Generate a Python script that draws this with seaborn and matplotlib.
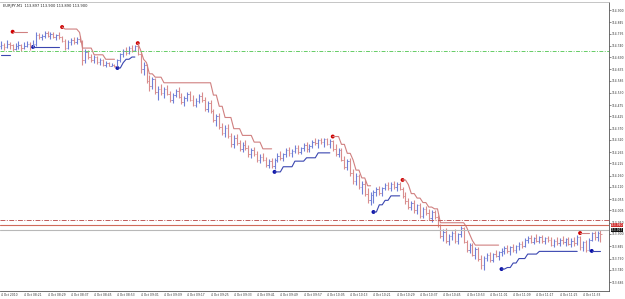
import matplotlib
matplotlib.use("Agg")
import matplotlib.pyplot as plt
import seaborn as sns
import pandas as pd
import numpy as np

sns.set_theme(style="white")
plt.rcParams['font.family'] = ['DejaVu Sans']

# ---------------- data (EURJPY M1, 4 Oct 2010 08:13 - 11:39) ----------------
opens = [114.738, 114.745, 114.735, 114.750, 114.742, 114.728, 114.738, 114.745, 114.732, 114.740, 114.750, 114.738,
         114.748, 114.790, 114.778, 114.785, 114.798, 114.785, 114.792, 114.780, 114.788,
         114.778, 114.760, 114.730, 114.758, 114.765, 114.755, 114.772,
         114.762, 114.675, 114.712, 114.690, 114.678, 114.688, 114.668, 114.675, 114.655, 114.665, 114.648, 114.655,
         114.652, 114.675, 114.702, 114.718, 114.710, 114.732, 114.720, 114.738,
         114.705, 114.635, 114.655, 114.585, 114.560, 114.590, 114.535, 114.545,
         114.530, 114.548, 114.525, 114.500, 114.522, 114.540, 114.512, 114.488, 114.505, 114.525, 114.500, 114.478, 114.495, 114.515, 114.498, 114.460, 114.485,
         114.450, 114.410, 114.425, 114.378, 114.350, 114.375, 114.338, 114.300,
         114.330, 114.305, 114.280, 114.298, 114.282, 114.255, 114.275, 114.258, 114.230, 114.245, 114.232, 114.210, 114.225,
         114.205, 114.232, 114.250, 114.238, 114.255, 114.275, 114.260, 114.272, 114.285, 114.268, 114.282, 114.295, 114.278, 114.292, 114.312, 114.305, 114.318, 114.310, 114.325, 114.300,
         114.315, 114.280, 114.258, 114.275, 114.232, 114.200, 114.225, 114.170, 114.135, 114.160, 114.110, 114.125, 114.080, 114.050,
         114.075, 114.085, 114.100, 114.082, 114.105, 114.120, 114.105, 114.125, 114.110, 114.122,
         114.100, 114.068, 114.045, 114.020, 114.040, 114.005, 114.028, 113.980, 114.012, 113.995, 113.970, 113.998, 113.975,
         113.940, 113.890, 113.910, 113.870, 113.892, 113.905, 113.868, 113.898,
         113.925, 113.865, 113.830, 113.850, 113.808, 113.832, 113.788, 113.760,
         113.792, 113.805, 113.785, 113.810, 113.800, 113.818,
         113.825, 113.838, 113.822, 113.840, 113.830, 113.845, 113.855,
         113.845, 113.872, 113.880, 113.865, 113.882, 113.870, 113.885, 113.868, 113.880,
         113.872, 113.852, 113.870, 113.858, 113.875, 113.862, 113.878, 113.855, 113.870, 113.858,
         113.888, 113.840, 113.862, 113.830, 113.875, 113.902, 113.885, 113.905]
highs = [114.760, 114.752, 114.765, 114.758, 114.748, 114.752, 114.760, 114.750, 114.755, 114.762, 114.755, 114.765,
         114.800, 114.798, 114.792, 114.805, 114.808, 114.800, 114.802, 114.795, 114.800,
         114.785, 114.772, 114.765, 114.775, 114.778, 114.780, 114.785,
         114.768, 114.725, 114.720, 114.705, 114.698, 114.695, 114.685, 114.680, 114.672, 114.670, 114.662, 114.660,
         114.680, 114.710, 114.725, 114.735, 114.740, 114.742, 114.745, 114.745,
         114.710, 114.668, 114.660, 114.610, 114.600, 114.598, 114.560, 114.570,
         114.555, 114.565, 114.540, 114.530, 114.548, 114.555, 114.530, 114.515, 114.535, 114.540, 114.520, 114.505, 114.525, 114.535, 114.510, 114.495, 114.500,
         114.460, 114.435, 114.440, 114.395, 114.385, 114.390, 114.350, 114.340,
         114.345, 114.320, 114.310, 114.318, 114.295, 114.285, 114.290, 114.270, 114.255, 114.262, 114.245, 114.235, 114.240,
         114.240, 114.260, 114.270, 114.262, 114.285, 114.290, 114.280, 114.295, 114.298, 114.290, 114.305, 114.310, 114.300, 114.320, 114.330, 114.325, 114.330, 114.328, 114.330, 114.322,
         114.320, 114.300, 114.285, 114.282, 114.250, 114.235, 114.240, 114.190, 114.170, 114.168, 114.135, 114.140, 114.105, 114.085,
         114.095, 114.110, 114.115, 114.110, 114.128, 114.132, 114.130, 114.135, 114.130, 114.132,
         114.110, 114.085, 114.060, 114.048, 114.050, 114.035, 114.040, 114.020, 114.025, 114.010, 114.005, 114.008, 113.985,
         113.945, 113.920, 113.925, 113.900, 113.915, 113.920, 113.905, 113.935,
         113.930, 113.875, 113.860, 113.858, 113.840, 113.842, 113.805, 113.800,
         113.815, 113.820, 113.815, 113.828, 113.825, 113.835,
         113.845, 113.850, 113.845, 113.855, 113.852, 113.862, 113.870,
         113.880, 113.890, 113.895, 113.888, 113.898, 113.892, 113.895, 113.888, 113.892,
         113.885, 113.878, 113.885, 113.880, 113.890, 113.882, 113.888, 113.880, 113.885, 113.895,
         113.892, 113.870, 113.875, 113.880, 113.910, 113.915, 113.912, 113.918]
lows = [114.728, 114.722, 114.730, 114.725, 114.715, 114.722, 114.728, 114.718, 114.725, 114.735, 114.722, 114.730,
        114.740, 114.770, 114.765, 114.775, 114.780, 114.770, 114.775, 114.768, 114.772,
        114.755, 114.720, 114.725, 114.745, 114.750, 114.748, 114.755,
        114.655, 114.665, 114.680, 114.668, 114.665, 114.660, 114.655, 114.648, 114.645, 114.648, 114.650, 114.645,
        114.648, 114.668, 114.690, 114.700, 114.705, 114.712, 114.715, 114.700,
        114.620, 114.610, 114.575, 114.540, 114.545, 114.525, 114.500, 114.520,
        114.505, 114.520, 114.490, 114.485, 114.510, 114.505, 114.480, 114.470, 114.495, 114.495, 114.470, 114.465, 114.485, 114.490, 114.450, 114.445, 114.440,
        114.400, 114.380, 114.370, 114.340, 114.335, 114.330, 114.290, 114.285,
        114.295, 114.270, 114.265, 114.275, 114.245, 114.240, 114.250, 114.220, 114.215, 114.225, 114.200, 114.195, 114.195,
        114.190, 114.220, 114.228, 114.225, 114.245, 114.250, 114.245, 114.262, 114.258, 114.255, 114.270, 114.268, 114.265, 114.285, 114.295, 114.285, 114.300, 114.290, 114.295, 114.285,
        114.270, 114.250, 114.245, 114.225, 114.190, 114.185, 114.160, 114.125, 114.120, 114.100, 114.080, 114.070, 114.040, 114.030,
        114.040, 114.070, 114.075, 114.070, 114.095, 114.098, 114.092, 114.100, 114.090, 114.095,
        114.060, 114.035, 114.010, 114.005, 113.995, 113.990, 113.970, 113.970, 113.985, 113.960, 113.955, 113.965, 113.930,
        113.880, 113.870, 113.860, 113.850, 113.875, 113.860, 113.855, 113.885,
        113.860, 113.820, 113.815, 113.800, 113.790, 113.780, 113.745, 113.740,
        113.780, 113.775, 113.775, 113.795, 113.785, 113.800,
        113.810, 113.815, 113.805, 113.820, 113.815, 113.830, 113.835,
        113.840, 113.860, 113.858, 113.855, 113.862, 113.858, 113.860, 113.855, 113.862,
        113.845, 113.842, 113.850, 113.845, 113.855, 113.848, 113.850, 113.842, 113.848, 113.850,
        113.830, 113.825, 113.820, 113.825, 113.868, 113.875, 113.870, 113.865]
closes = [114.745, 114.735, 114.750, 114.742, 114.728, 114.738, 114.745, 114.732, 114.740, 114.750, 114.738, 114.748,
          114.790, 114.778, 114.785, 114.798, 114.785, 114.792, 114.780, 114.788, 114.778,
          114.760, 114.730, 114.758, 114.765, 114.755, 114.772, 114.762,
          114.675, 114.712, 114.690, 114.678, 114.688, 114.668, 114.675, 114.655, 114.665, 114.648, 114.655, 114.652,
          114.675, 114.702, 114.718, 114.710, 114.732, 114.720, 114.738, 114.705,
          114.635, 114.655, 114.585, 114.560, 114.590, 114.535, 114.545, 114.530,
          114.548, 114.525, 114.500, 114.522, 114.540, 114.512, 114.488, 114.505, 114.525, 114.500, 114.478, 114.495, 114.515, 114.498, 114.460, 114.485, 114.450,
          114.410, 114.425, 114.378, 114.350, 114.375, 114.338, 114.300, 114.330,
          114.305, 114.280, 114.298, 114.282, 114.255, 114.275, 114.258, 114.230, 114.245, 114.232, 114.210, 114.225, 114.205,
          114.232, 114.250, 114.238, 114.255, 114.275, 114.260, 114.272, 114.285, 114.268, 114.282, 114.295, 114.278, 114.292, 114.312, 114.305, 114.318, 114.310, 114.325, 114.300, 114.315,
          114.280, 114.258, 114.275, 114.232, 114.200, 114.225, 114.170, 114.135, 114.160, 114.110, 114.125, 114.080, 114.050, 114.075,
          114.085, 114.100, 114.082, 114.105, 114.120, 114.105, 114.125, 114.110, 114.122, 114.100,
          114.068, 114.045, 114.020, 114.040, 114.005, 114.028, 113.980, 114.012, 113.995, 113.970, 113.998, 113.975, 113.940,
          113.890, 113.910, 113.870, 113.892, 113.905, 113.868, 113.898, 113.925,
          113.865, 113.830, 113.850, 113.808, 113.832, 113.788, 113.760, 113.792,
          113.805, 113.785, 113.810, 113.800, 113.818, 113.825,
          113.838, 113.822, 113.840, 113.830, 113.845, 113.855, 113.845,
          113.872, 113.880, 113.865, 113.882, 113.870, 113.885, 113.868, 113.880, 113.872,
          113.852, 113.870, 113.858, 113.875, 113.862, 113.878, 113.855, 113.870, 113.858, 113.888,
          113.840, 113.862, 113.830, 113.875, 113.902, 113.885, 113.905, 113.900]

# trailing-stop levels: (first bar, last bar, level)
red_stop = [(4, 9, 114.803),
            (21, 21, 114.824), (22, 26, 114.815), (27, 27, 114.800), (28, 31, 114.730), (32, 35, 114.700), (36, 39, 114.680),
            (47, 47, 114.752), (48, 48, 114.720), (49, 49, 114.680), (50, 50, 114.665), (51, 52, 114.615), (53, 55, 114.600),
            (56, 72, 114.575), (73, 74, 114.520), (75, 76, 114.470), (77, 79, 114.420), (80, 82, 114.370), (83, 86, 114.340),
            (87, 89, 114.310), (90, 93, 114.280),
            (114, 116, 114.335), (117, 118, 114.300), (119, 120, 114.260), (121, 121, 114.230), (122, 123, 114.185),
            (124, 125, 114.150), (126, 127, 114.115),
            (138, 139, 114.141), (140, 140, 114.120), (141, 142, 114.080), (143, 144, 114.060), (145, 146, 114.040),
            (147, 148, 114.020), (149, 150, 114.012), (151, 159, 113.950), (160, 160, 113.930), (161, 161, 113.900),
            (162, 162, 113.870), (163, 171, 113.850),
            (199, 202, 113.904)]
blue_stop = [(0, 3, 114.699),
             (11, 20, 114.735),
             (40, 41, 114.641), (42, 42, 114.665), (43, 44, 114.680), (45, 46, 114.690),
             (94, 96, 114.177), (97, 100, 114.200), (101, 104, 114.225), (105, 108, 114.240), (109, 113, 114.262),
             (128, 129, 113.998), (130, 131, 114.030), (132, 133, 114.050), (134, 137, 114.070),
             (172, 173, 113.743), (174, 175, 113.750), (176, 177, 113.770), (178, 180, 113.790), (181, 184, 113.810),
             (185, 198, 113.822),
             (203, 206, 113.824)]

green_level = 114.717
red_dash_level = 113.962
ask_level = 113.940
bid_level = 113.917

y_ticks = [114.900, 114.845, 114.795, 114.740, 114.690, 114.635, 114.585, 114.530, 114.475, 114.425, 114.370,
           114.320, 114.265, 114.215, 114.160, 114.110, 114.055, 114.005, 113.950, 113.900, 113.845, 113.790,
           113.740, 113.685]
x_labels = ["4 Oct 2010", "4 Oct 08:21", "4 Oct 08:29", "4 Oct 08:37", "4 Oct 08:45", "4 Oct 08:53",
            "4 Oct 09:01", "4 Oct 09:09", "4 Oct 09:17", "4 Oct 09:25", "4 Oct 09:33", "4 Oct 09:41",
            "4 Oct 09:49", "4 Oct 09:57", "4 Oct 10:05", "4 Oct 10:13", "4 Oct 10:21", "4 Oct 10:29",
            "4 Oct 10:37", "4 Oct 10:45", "4 Oct 10:53", "4 Oct 11:01", "4 Oct 11:09", "4 Oct 11:17",
            "4 Oct 11:25", "4 Oct 11:33"]
title_text = "EURJPY,M1  113.897 113.900 113.890 113.900"

assert len(opens) == len(highs) == len(lows) == len(closes)

# ---------------- figure ----------------
W, H = 625, 299
fig = plt.figure(figsize=(W / 100, H / 100), dpi=100)
fig.patch.set_facecolor("white")
ax = fig.add_axes([0 / W, 1 - 291 / H, 609 / W, 289 / H])
ax.set_facecolor("white")

n = len(closes)
bars = pd.DataFrame({"i": np.arange(n), "o": opens, "h": highs, "l": lows, "c": closes})
up_col, dn_col = "#6f7fd6", "#d98c8c"
bars["col"] = np.where(bars["c"] >= bars["o"], up_col, dn_col)

ax.vlines(bars["i"], bars["l"], bars["h"], colors=bars["col"], linewidth=0.8)
ax.hlines(bars["o"], bars["i"] - 0.45, bars["i"], colors=bars["col"], linewidth=0.6)
ax.hlines(bars["c"], bars["i"], bars["i"] + 0.45, colors=bars["col"], linewidth=0.6)


def expand(segs):
    rows, trend, prev_end = [], -1, None
    for s, e, v in segs:
        if prev_end is None or s != prev_end + 1:
            trend += 1
        for k in range(s, e + 1):
            rows.append((k, v, trend))
        prev_end = e
    return pd.DataFrame(rows, columns=["i", "v", "trend"])


red_df = expand(red_stop)
blue_df = expand(blue_stop)
sns.lineplot(data=red_df, x="i", y="v", units="trend", estimator=None, color="#d08080",
             linewidth=0.8, ax=ax, legend=False)
sns.lineplot(data=blue_df, x="i", y="v", units="trend", estimator=None, color="#3a46b0",
             linewidth=0.8, ax=ax, legend=False)

red_dots = red_df.groupby("trend").first().reset_index()
blue_dots = blue_df.groupby("trend").first().reset_index()
blue_dots = blue_dots[blue_dots["i"] > 0]
sns.scatterplot(data=red_dots, x="i", y="v", color="#d00000", s=8, edgecolor="none", ax=ax, legend=False)
sns.scatterplot(data=blue_dots, x="i", y="v", color="#0a10a8", s=8, edgecolor="none", ax=ax, legend=False)

ax.axhline(green_level, color="#66cc66", linewidth=0.7, linestyle=(0, (4, 1.5, 1, 1.5)))
ax.axhline(red_dash_level, color="#c05a5a", linewidth=0.7, linestyle=(0, (5, 1.5, 1, 1.5)))
ax.axhline(ask_level, color="#d06a5a", linewidth=0.8)
ax.axhline(bid_level, color="#b8b8b8", linewidth=0.8)

# axes range
x0 = -1 / 2.91
ax.set_xlim(x0, x0 + 609 / 2.91)
ax.set_ylim(114.9447 - 0.004466 * 291, 114.9447 - 0.004466 * 2)

FS = 2.2
ax.yaxis.tick_right()
ax.set_yticks(y_ticks)
ax.set_yticklabels([f"{v:.3f}" for v in y_ticks], fontsize=FS, color="#333333")
ax.set_xticks(np.arange(len(x_labels)) * 8)
ax.set_xticklabels(x_labels, fontsize=FS, color="#333333", ha="left")
ax.tick_params(axis="both", length=1.2, width=0.4, pad=0.4, colors="#333333", direction="out")
ax.set_xlabel("")
ax.set_ylabel("")

ax.spines["left"].set_visible(False)
ax.spines["top"].set_color("#bbbbbb")
ax.spines["top"].set_linewidth(0.6)
ax.spines["right"].set_color("#555555")
ax.spines["right"].set_linewidth(0.6)
ax.spines["bottom"].set_color("#555555")
ax.spines["bottom"].set_linewidth(0.6)

# price boxes on the right axis
ax.text(1.003, ask_level, f"{ask_level:.3f}", transform=ax.get_yaxis_transform(), fontsize=FS,
        color="white", va="center", ha="left", zorder=5,
        bbox=dict(boxstyle="square,pad=0.05", fc="#d03030", ec="none"))
ax.text(1.003, bid_level, f"{bid_level:.3f}", transform=ax.get_yaxis_transform(), fontsize=FS,
        color="white", va="center", ha="left", zorder=5,
        bbox=dict(boxstyle="square,pad=0.05", fc="#111111", ec="none"))

fig.text(3 / W, 1 - 6 / H, title_text, fontsize=2.6, color="#222222", va="center", ha="left")

fig.savefig("out.png", dpi=100, facecolor="white")
